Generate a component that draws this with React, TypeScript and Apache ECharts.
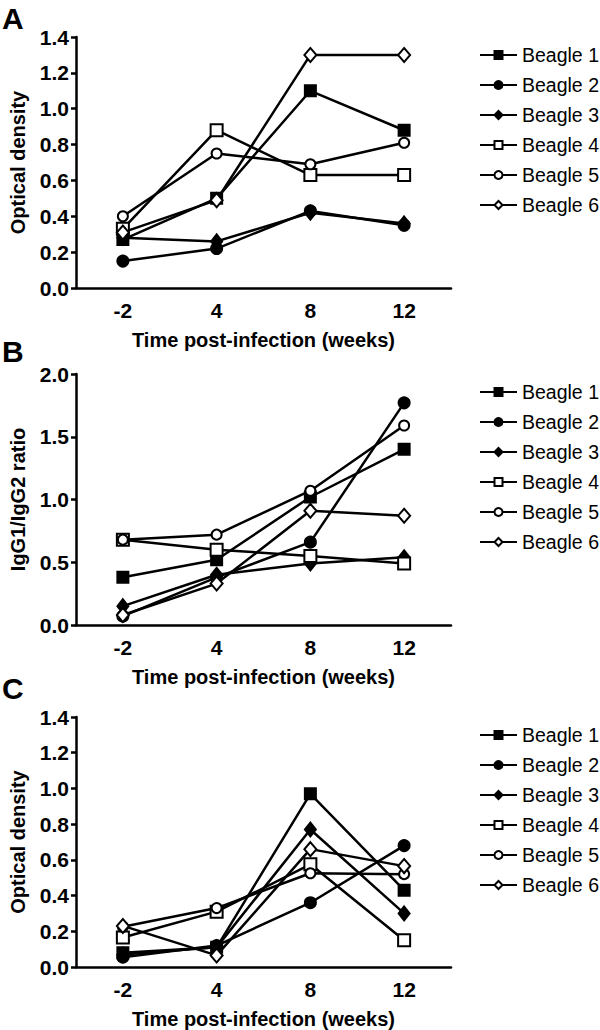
import React, { useEffect, useRef } from "react";
import * as echarts from "echarts";

const weeks = ["-2", "4", "8", "12"];
const beagles = ["Beagle 1", "Beagle 2", "Beagle 3", "Beagle 4", "Beagle 5", "Beagle 6"];

// Panel A: optical density
const panelA = [
  [0.27, 0.5, 1.1, 0.88],
  [0.15, 0.22, 0.43, 0.35],
  [0.28, 0.26, 0.42, 0.36],
  [0.33, 0.88, 0.63, 0.63],
  [0.4, 0.75, 0.69, 0.81],
  [0.31, 0.49, 1.3, 1.3],
];
// Panel B: IgG1/IgG2 ratio
const panelB = [
  [0.38, 0.52, 1.02, 1.4],
  [0.07, 0.38, 0.66, 1.77],
  [0.15, 0.4, 0.49, 0.54],
  [0.68, 0.6, 0.55, 0.49],
  [0.68, 0.72, 1.07, 1.59],
  [0.08, 0.33, 0.91, 0.87],
];
// Panel C: optical density
const panelC = [
  [0.08, 0.11, 0.97, 0.43],
  [0.055, 0.12, 0.36, 0.68],
  [0.07, 0.11, 0.77, 0.3],
  [0.165, 0.31, 0.575, 0.15],
  [0.225, 0.33, 0.525, 0.52],
  [0.23, 0.065, 0.66, 0.565],
];

const FONT = "'Liberation Sans', Arial, sans-serif";

const markers = [
  { symbol: "rect", size: 11, fill: "#000" },
  { symbol: "circle", size: 11, fill: "#000" },
  { symbol: "diamond", size: [11, 14], fill: "#000" },
  { symbol: "rect", size: 12, fill: "#fff" },
  { symbol: "circle", size: 10, fill: "#fff" },
  { symbol: "diamond", size: [12, 14], fill: "#fff" },
];

export default function App() {
  const ref = useRef<HTMLDivElement>(null);
  useEffect(() => {
    const chart = echarts.init(ref.current!, null, { renderer: "svg" });
    const tops = [37, 374, 717];
    const panels = [panelA, panelB, panelC];
    const yMax = [1.4, 2.0, 1.4];
    const yInt = [0.2, 0.5, 0.2];
    const yNames = ["Optical density", "IgG1/IgG2 ratio", "Optical density"];
    const legendTops = [40, 377, 720];
    const letters = ["A", "B", "C"];
    const letterTops = [3, 336, 673];

    const grid = tops.map((t) => ({ left: 73, top: t, width: 378, height: 251 }));
    const xAxis = tops.map((_, i) => ({
      type: "category",
      gridIndex: i,
      data: weeks,
      boundaryGap: true,
      axisLine: { lineStyle: { color: "#000", width: 2.5 } },
      axisTick: { alignWithLabel: true, length: 7, lineStyle: { width: 2.5, color: "#000" } },
      axisLabel: { color: "#000", fontSize: 21, fontWeight: "bold", fontFamily: FONT, margin: 12 },
      name: "Time post-infection (weeks)",
      nameLocation: "middle",
      nameGap: 42,
      nameTextStyle: { color: "#000", fontSize: 20, fontWeight: "bold", fontFamily: FONT },
    }));
    const yAxis = tops.map((_, i) => ({
      type: "value",
      gridIndex: i,
      min: 0,
      max: yMax[i],
      interval: yInt[i],
      splitLine: { show: false },
      axisLine: { show: true, lineStyle: { color: "#000", width: 2.5 } },
      axisTick: { show: true, length: 5, lineStyle: { width: 2.5, color: "#000" } },
      axisLabel: {
        color: "#000",
        fontSize: 21,
        fontWeight: "bold",
        fontFamily: FONT,
        margin: 7,
        formatter: (v: number) => v.toFixed(1),
      },
      name: yNames[i],
      nameLocation: "middle",
      nameGap: 48,
      nameTextStyle: { color: "#000", fontSize: 20, fontWeight: "bold", fontFamily: FONT },
    }));
    const series: any[] = [];
    panels.forEach((p, pi) => {
      p.forEach((vals, bi) => {
        const m = markers[bi];
        series.push({
          type: "line",
          name: beagles[bi],
          xAxisIndex: pi,
          yAxisIndex: pi,
          data: vals,
          symbol: m.symbol,
          symbolSize: m.size,
          showAllSymbol: true,
          lineStyle: { color: "#000", width: 2.5 },
          itemStyle: { color: m.fill, borderColor: "#000", borderWidth: 2 },
          emphasis: { disabled: true },
        });
      });
    });
    const legend = legendTops.map((t) => ({
      orient: "vertical",
      left: 474,
      top: t,
      data: beagles,
      itemWidth: 37,
      itemHeight: 10,
      itemGap: 10,
      selectedMode: false,
      textStyle: { color: "#000", fontSize: 19.5, fontFamily: FONT, lineHeight: 20 },
    }));
    const graphic = letters.map((l, i) => ({
      type: "text",
      left: 2,
      top: letterTops[i],
      style: { text: l, fill: "#000", font: `bold 30px ${FONT}` },
    }));
    chart.setOption({
      animation: false,
      backgroundColor: "#fff",
      grid,
      xAxis,
      yAxis,
      series,
      legend,
      graphic,
    });
    return () => chart.dispose();
  }, []);
  return (
    <div
      ref={ref}
      style={{ position: "absolute", left: 0, top: 0, width: 600, height: 1030, background: "#fff" }}
    />
  );
}
